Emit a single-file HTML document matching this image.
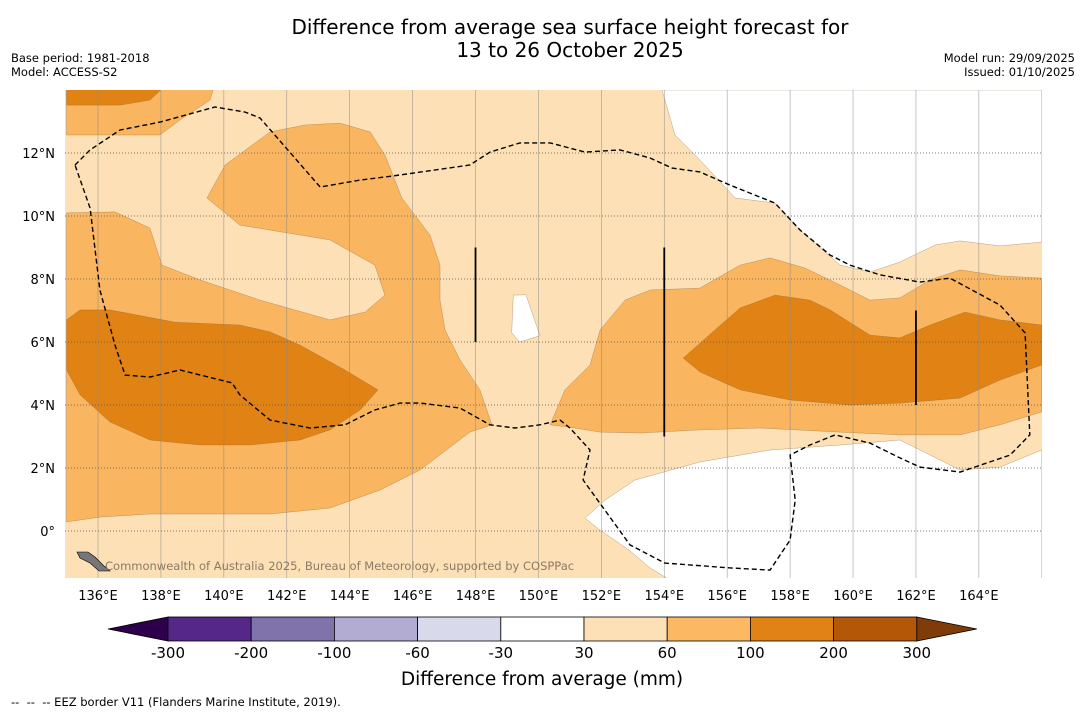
<!DOCTYPE html>
<html><head><meta charset="utf-8">
<style>
body{margin:0;background:#fff;font-family:"Liberation Sans","DejaVu Sans",sans-serif;}
svg{display:block}
text{font-family:"DejaVu Sans","Liberation Sans",sans-serif;}
</style></head>
<body>
<svg id="chart" width="1085" height="713" viewBox="0 0 1085 713" xmlns="http://www.w3.org/2000/svg">
<rect width="1085" height="713" fill="#fff"/>
<text x="570" y="34" font-size="20" text-anchor="middle">Difference from average sea surface height forecast for</text>
<text x="570" y="57" font-size="20" text-anchor="middle">13 to 26 October 2025</text>
<text x="11" y="62" font-size="11.5">Base period: 1981-2018</text>
<text x="11" y="76" font-size="11.5">Model: ACCESS-S2</text>
<text x="1075" y="62" font-size="11.5" text-anchor="end">Model run: 29/09/2025</text>
<text x="1075" y="76" font-size="11.5" text-anchor="end">Issued: 01/10/2025</text>
<defs><clipPath id="mapclip"><rect x="65" y="90" width="977" height="488"/></clipPath></defs>
<g id="map" clip-path="url(#mapclip)"></g>
<g id="axes"></g>
<g id="cbar"></g>
<text x="542" y="685" font-size="18.5" text-anchor="middle">Difference from average (mm)</text>
<text x="11" y="706" font-size="11.5">-- &#160;-- &#160;-- EEZ border V11 (Flanders Marine Institute, 2019).</text>
</svg>
<script>
const lonTicks=[136,138,140,142,144,146,148,150,152,154,156,158,160,162,164];
const latTicks=[0,2,4,6,8,10,12];
const whiteTop=[[153.93,14],[154.34,12.57],[155.13,11.78],[156.25,10.57],[157.52,10.41],[158.31,9.56],[159.59,8.44],[160.54,8.22],[161.49,8.54],[162.61,9.08],[163.40,9.21],[164.67,9.05],[166,9.17],[166,14]];
const whiteBottom=[[151.48,0.41],[152.12,0.98],[153.07,1.62],[155.13,2.19],[157.36,2.57],[159.59,2.73],[161.49,2.89],[163.40,1.94],[164.67,2.03],[166,2.57],[166,-1.6],[154.25,-1.6],[153.55,-1.17],[152.91,-0.63],[151.96,0.03]];
const whiteBlob=[[149.2,7.49],[149.6,7.5],[150.05,6.2],[149.4,6.0],[149.15,6.3]];
const medTopLeft=[[135,14.2],[139.72,14.2],[139.56,13.68],[138.61,13.05],[137.97,12.57],[135,12.57]];
const medWest=[[135,0.29],[135,10.10],[136.54,10.13],[137.65,9.62],[138.03,8.44],[139.24,7.97],[141.15,7.33],[143.37,6.70],[144.49,6.95],[145.12,7.49],[144.80,8.44],[143.37,9.24],[140.51,9.71],[139.46,10.57],[140.04,11.62],[141.47,12.67],[142.58,12.89],[143.69,12.95],[144.65,12.67],[145.12,11.94],[145.66,10.57],[146.55,9.40],[146.87,8.44],[146.87,7.33],[147.03,6.38],[147.51,5.43],[148.14,4.48],[148.52,3.37],[147.82,3.14],[146.24,1.94],[144.96,1.30],[143.37,0.73],[141.47,0.54],[137.65,0.54],[136.06,0.44]];
const medEast=[[150.37,3.37],[150.84,4.48],[151.64,5.27],[151.96,6.38],[152.75,7.33],[153.55,7.65],[155.13,7.71],[156.41,8.44],[157.36,8.67],[158.47,8.35],[159.59,7.81],[160.54,7.33],[161.49,7.40],[162.45,7.97],[163.40,8.29],[164.67,8.10],[166,8.03],[166,3.78],[164.67,3.37],[163.40,3.05],[161.49,3.05],[159.59,3.14],[157.04,3.27],[155.13,3.21],[153.23,3.11],[151.96,3.14],[151.16,3.27]];
const darkTopLeft=[[135,14.2],[138.22,14.2],[137.65,13.68],[136.70,13.52],[135,13.52]];
const darkWest=[[135,6.70],[135.43,7.02],[136.38,7.02],[138.45,6.63],[140.51,6.54],[141.47,6.32],[142.42,5.90],[143.85,5.11],[144.90,4.48],[144.33,3.84],[143.37,3.21],[142.42,2.89],[140.83,2.73],[139.24,2.73],[137.65,2.89],[136.38,3.46],[135.43,4.32],[135,5.11]];
const darkEast=[[154.60,5.49],[155.61,6.38],[156.41,7.08],[157.52,7.49],[158.63,7.33],[159.27,7.02],[160.54,6.22],[161.49,6.13],[162.45,6.54],[163.56,6.95],[164.67,6.70],[166,6.54],[166,5.27],[164.67,4.79],[163.40,4.22],[161.49,4.06],[159.90,4.0],[158.00,4.16],[156.41,4.48],[155.13,5.05]];
const eezLine=[[135.27,11.62],[135.75,12.10],[136.70,12.73],[137.97,12.98],[139.72,13.46],[140.67,13.30],[141.15,13.11],[143.06,10.92],[144.33,11.14],[145.60,11.30],[147.82,11.62],[148.46,12.03],[149.41,12.32],[150.37,12.32],[151.48,12.03],[152.59,12.10],[153.55,11.84],[154.25,11.52],[155.13,11.40],[156.09,10.98],[157.52,10.41],[158.31,9.56],[159.27,8.76],[159.90,8.44],[160.86,8.13],[162.13,7.90],[163.08,8.03],[164.67,7.17],[165.47,6.29],[165.62,3.05],[164.99,2.41],[163.40,1.87],[162.13,2.03],[161.49,2.32],[160.54,2.79],[159.43,3.05],[158.63,2.73],[158.00,2.41],[158.16,0.98],[158.00,-0.29],[157.36,-1.24],[156.09,-1.17],[154.02,-1.02],[152.91,-0.44],[151.42,1.62],[151.64,2.57],[151.00,3.27],[150.69,3.52],[150.05,3.37],[149.25,3.27],[148.46,3.37],[147.51,3.90],[146.24,4.06],[145.60,4.06],[144.80,3.84],[143.85,3.37],[142.74,3.27],[141.47,3.52],[140.51,4.32],[140.26,4.70],[138.61,5.11],[137.65,4.89],[136.86,4.95],[136.54,5.90],[136.06,7.65],[135.75,10.25],[135.27,11.62]];
const boundaryLines=[[148,9,6],[154,9,3],[162,7,4]];
const cbarLabels=["-300","-200","-100","-60","-30","30","60","100","200","300"];
const cbarColors=["#542788","#8073ac","#b2abd2","#d8daeb","#ffffff","#fee0b6","#fdb863","#e08214","#b35806"];

const NS="http://www.w3.org/2000/svg";
const X=lon=>98+(lon-136)*31.46;
const Y=lat=>531-lat*31.5;
function mk(tag,attrs,parent){const e=document.createElementNS(NS,tag);for(const k in attrs)e.setAttribute(k,attrs[k]);parent.appendChild(e);return e;}
const pts=a=>a.map(p=>X(p[0]).toFixed(1)+","+Y(p[1]).toFixed(1)).join(" ");
const map=document.getElementById('map');
const bg=mk('rect',{x:65,y:90,width:977,height:488,fill:'#fde0b5'},map);


const layers=[[medTopLeft,'#f9b560','contour-60-100-northwest'],[medWest,'#f9b560','contour-60-100-west'],[medEast,'#f9b560','contour-60-100-east'],[darkTopLeft,'#e08214','contour-100-200-northwest'],[darkWest,'#e08214','contour-100-200-west'],[darkEast,'#e08214','contour-100-200-east'],[whiteTop,'#ffffff','contour-below-30-north'],[whiteBottom,'#ffffff','contour-below-30-south'],[whiteBlob,'#ffffff','contour-below-30-blob']];
layers.forEach(l=>{const p=mk('polygon',{points:pts(l[0]),fill:l[1],stroke:'#8a6a40','stroke-width':0.3},map);

});
lonTicks.forEach(v=>{const g=mk('line',{x1:X(v),x2:X(v),y1:90,y2:578,stroke:'#888','stroke-width':0.6,'stroke-opacity':0.8},map);

});
latTicks.forEach(v=>{const g=mk('line',{x1:65,x2:1042,y1:Y(v),y2:Y(v),stroke:'#555','stroke-width':0.7,'stroke-dasharray':'1,2'},map);

});
const eez=mk('polyline',{points:pts(eezLine),fill:'none',stroke:'#000','stroke-width':1.4,'stroke-dasharray':'5,3'},map);


boundaryLines.forEach(b=>{const l=mk('line',{x1:X(b[0]),x2:X(b[0]),y1:Y(b[1]),y2:Y(b[2]),stroke:'#000','stroke-width':1.8},map);

});
const isl=mk('polygon',{points:"77,552 88,552 95,557 104,566 110,571 99,571 90,563 80,558",fill:'#777',stroke:'#000','stroke-width':0.6},map);


const cp=mk('text',{x:105,y:570,'font-size':11.5,fill:'#8a7a66'},map);
cp.textContent="Commonwealth of Australia 2025, Bureau of Meteorology, supported by COSPPac";


const axes=document.getElementById('axes');
lonTicks.forEach(v=>{const t=mk('text',{x:X(v),y:600,'font-size':13,'text-anchor':'middle'},axes);t.textContent=v+"°E";

});
latTicks.forEach(v=>{const t=mk('text',{x:55,y:Y(v)+5,'font-size':13,'text-anchor':'end'},axes);t.textContent=v===0?"0°":v+"°N";

});
const cb=document.getElementById('cbar');
const x0=168,w=83.2,y0=617,h=24;
const lt=mk('polygon',{points:`108,629 ${x0},${y0} ${x0},${y0+h}`,fill:'#2d004b',stroke:'#000','stroke-width':0.8},cb);


cbarColors.forEach((c,i)=>{const r=mk('rect',{x:x0+i*w,y:y0,width:w,height:h,fill:c,stroke:'#000','stroke-width':0.8},cb);

});
const xe=x0+cbarColors.length*w;
const rt=mk('polygon',{points:`${xe},${y0} ${xe+60},629 ${xe},${y0+h}`,fill:'#7f3b08',stroke:'#000','stroke-width':0.8},cb);


cbarLabels.forEach((s,i)=>{const t=mk('text',{x:x0+i*w,y:658,'font-size':15,'text-anchor':'middle'},cb);t.textContent=s;

});
</script>
</body></html>
